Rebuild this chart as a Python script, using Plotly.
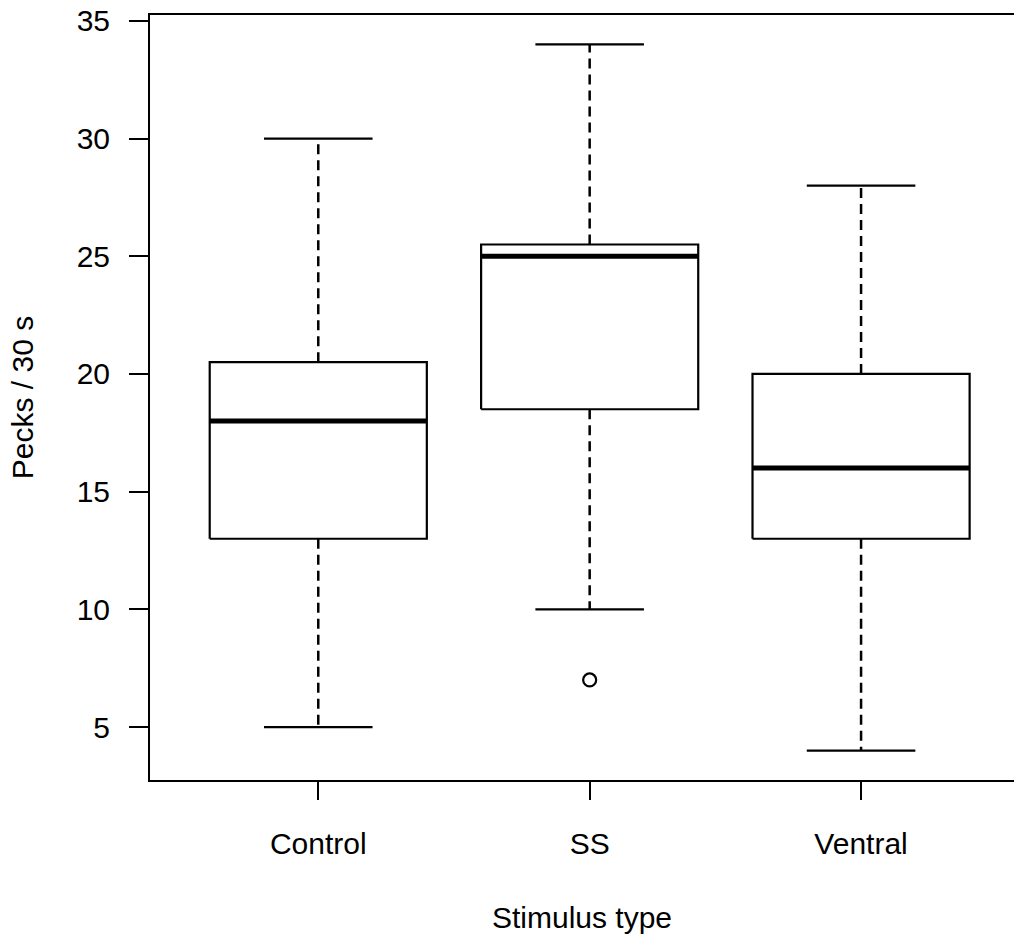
import plotly.graph_objects as go

categories = ["Control", "SS", "Ventral"]
lower_whisker = [5, 10, 4]
q1 = [13, 18.5, 13]
median = [18, 25, 16]
q3 = [20.5, 25.5, 20]
upper_whisker = [30, 34, 28]
outlier_cat = ["SS"]
outlier_val = [7]

y_ticks = [5, 10, 15, 20, 25, 30, 35]

BOX_HALF = 0.4
CAP_HALF = 0.2
pos = {c: i + 1 for i, c in enumerate(categories)}

bx, by, mx, my, wx, wy, cx, cy = [], [], [], [], [], [], [], []
for c, lo, a, m, b, hi in zip(categories, lower_whisker, q1, median, q3, upper_whisker):
    p = pos[c]
    bx += [p - BOX_HALF, p + BOX_HALF, p + BOX_HALF, p - BOX_HALF, p - BOX_HALF, None]
    by += [a, a, b, b, a, None]
    mx += [p - BOX_HALF, p + BOX_HALF, None]
    my += [m, m, None]
    wx += [p, p, None, p, p, None]
    wy += [b, hi, None, a, lo, None]
    cx += [p - CAP_HALF, p + CAP_HALF, None, p - CAP_HALF, p + CAP_HALF, None]
    cy += [hi, hi, None, lo, lo, None]

fig = go.Figure()
fig.add_trace(go.Scatter(x=wx, y=wy, mode="lines",
                         line=dict(color="black", width=2.5, dash="10px,6px"),
                         hoverinfo="skip"))
fig.add_trace(go.Scatter(x=cx, y=cy, mode="lines",
                         line=dict(color="black", width=2.2), hoverinfo="skip"))
fig.add_trace(go.Scatter(x=bx, y=by, mode="lines",
                         line=dict(color="black", width=2.2), hoverinfo="skip"))
fig.add_trace(go.Scatter(x=mx, y=my, mode="lines",
                         line=dict(color="black", width=5), hoverinfo="skip"))
fig.add_trace(go.Scatter(x=[pos[c] for c in outlier_cat], y=outlier_val, mode="markers",
                         marker=dict(symbol="circle-open", size=13, color="black",
                                     line=dict(width=2.2, color="black"))))

font = dict(family="Liberation Sans, Arial, Helvetica, sans-serif", size=30, color="black")

fig.update_layout(
    width=1014, height=939,
    margin=dict(l=150, r=0, t=15, b=159, autoexpand=False),
    paper_bgcolor="white", plot_bgcolor="white",
    showlegend=False,
    font=font,
)
fig.update_xaxes(
    range=[0.38, 3.5635],
    tickmode="array", tickvals=[pos[c] for c in categories], ticktext=categories,
    ticks="outside", ticklen=18, tickwidth=2, tickcolor="black",
    showline=True, linecolor="black", linewidth=2, mirror=True,
    showgrid=False, zeroline=False, automargin=False,
    ticklabelstandoff=18,
    title=dict(text="Stimulus type", font=font, standoff=48),
)
fig.update_yaxes(
    range=[2.75, 35.25],
    tickmode="array", tickvals=y_ticks, ticktext=[str(v) for v in y_ticks],
    ticks="outside", ticklen=19, tickwidth=2, tickcolor="black",
    showline=True, linecolor="black", linewidth=2,
    showgrid=False, zeroline=False, automargin=False,
    ticklabelstandoff=13,
    title=dict(text="Pecks / 30 s", font=font, standoff=34),
)

fig.write_html("out.html")
